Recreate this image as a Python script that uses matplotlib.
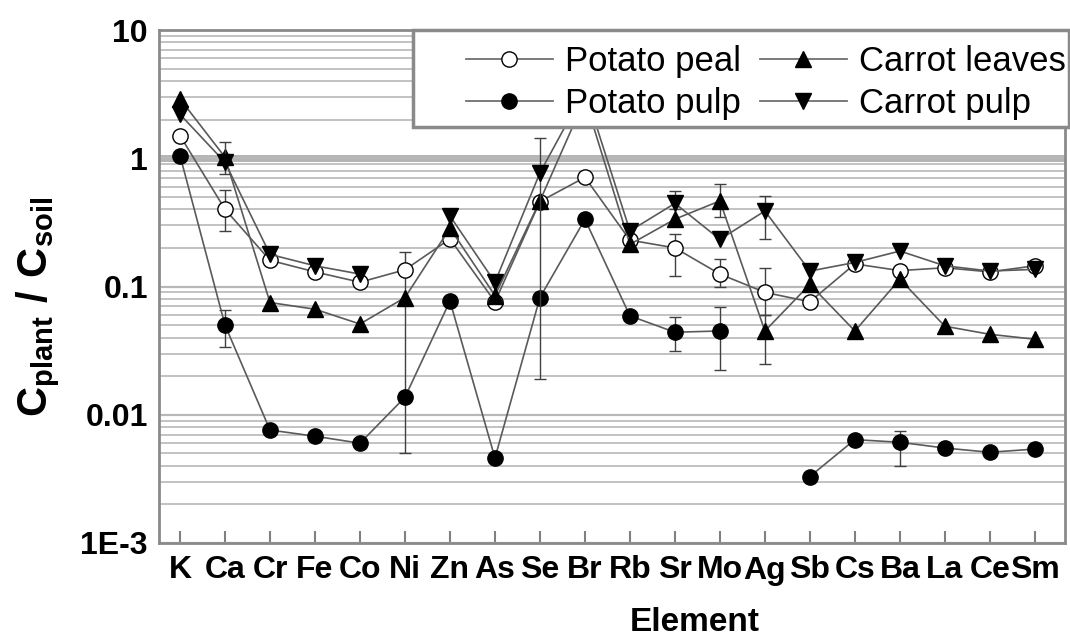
import numpy as np
import matplotlib
matplotlib.use('Agg')
import matplotlib.pyplot as plt
from matplotlib.lines import Line2D
from matplotlib.patches import Rectangle
from matplotlib.ticker import LogLocator, FixedLocator, NullFormatter

plt.rcParams['font.family'] = ['Liberation Sans', 'DejaVu Sans']
plt.rcParams['mathtext.fontset'] = 'custom'
plt.rcParams['mathtext.rm'] = 'Liberation Sans:bold'
plt.rcParams['mathtext.bf'] = 'Liberation Sans:bold'

nan = np.nan

elements = ['K', 'Ca', 'Cr', 'Fe', 'Co', 'Ni', 'Zn', 'As', 'Se', 'Br',
            'Rb', 'Sr', 'Mo', 'Ag', 'Sb', 'Cs', 'Ba', 'La', 'Ce', 'Sm']

# transfer factors C_plant / C_soil
potato_peal = [1.5, 0.40, 0.16, 0.13, 0.108, 0.135, 0.235, 0.076, 0.46, 0.71,
               0.23, 0.20, 0.125, 0.09, 0.076, 0.15, 0.133, 0.14, 0.13, 0.145]
potato_pulp = [1.05, 0.05, 0.0076, 0.0068, 0.006, 0.0137, 0.077, 0.0046, 0.082, 0.334,
               0.059, 0.044, 0.045, nan, 0.0033, 0.0064, 0.0061, 0.0055, 0.0051, 0.0054]
carrot_leaves = [2.9, 1.02, 0.075, 0.0665, 0.051, 0.082, 0.285, 0.085, 0.465, 2.9,
                 0.213, 0.335, 0.465, 0.045, 0.104, 0.045, 0.114, 0.049, 0.0424, 0.0388]
carrot_pulp = [2.2, 0.93, 0.178, 0.145, 0.125, nan, 0.355, 0.108, 0.77, 3.4,
               0.271, 0.445, 0.233, 0.388, 0.132, 0.154, 0.189, 0.145, 0.132, 0.136]

# error bar limits (low, high)
peal_lo = [nan, 0.27, nan, nan, nan, 0.005, nan, nan, nan, nan,
           nan, 0.121, 0.10, 0.06, nan, nan, nan, nan, nan, nan]
peal_hi = [nan, 0.57, nan, nan, nan, 0.185, nan, nan, nan, nan,
           nan, 0.255, 0.165, 0.14, nan, nan, nan, nan, nan, nan]
pulp_lo = [nan, 0.034, nan, nan, nan, nan, nan, nan, nan, nan,
           nan, 0.0315, 0.0225, nan, nan, nan, 0.004, nan, nan, nan]
pulp_hi = [nan, 0.065, nan, nan, nan, nan, nan, nan, nan, nan,
           nan, 0.0575, 0.069, nan, nan, nan, 0.0075, nan, nan, nan]
leaves_lo = [nan, nan, nan, nan, nan, nan, nan, nan, nan, nan,
             nan, nan, 0.35, 0.0247, nan, nan, nan, nan, nan, nan]
leaves_hi = [nan, nan, nan, nan, nan, nan, nan, nan, nan, nan,
             nan, nan, 0.627, 0.06, nan, nan, nan, nan, nan, nan]
cpulp_lo = [nan, 0.75, nan, nan, nan, nan, nan, nan, 0.019, nan,
            nan, 0.40, nan, 0.233, nan, nan, nan, nan, nan, nan]
cpulp_hi = [nan, 1.33, nan, nan, nan, nan, nan, nan, 1.45, nan,
            nan, 0.556, nan, 0.51, nan, nan, nan, nan, nan, nan]


def yerr(vals, lo, hi):
    v = np.array(vals, dtype=float)
    return [v - np.array(lo, dtype=float), np.array(hi, dtype=float) - v]


fig = plt.figure(figsize=(10.7, 6.36), dpi=100)
ax = fig.add_axes([159 / 1070, 1 - 543 / 636, 906 / 1070, 513 / 636])

x = np.arange(len(elements))
line_c = '#5a5a5a'

series = [
    (potato_peal, peal_lo, peal_hi, 'o', 'white', 11, 'Potato peal'),
    (potato_pulp, pulp_lo, pulp_hi, 'o', 'black', 11, 'Potato pulp'),
    (carrot_leaves, leaves_lo, leaves_hi, '^', 'black', 11, 'Carrot leaves'),
    (carrot_pulp, cpulp_lo, cpulp_hi, 'v', 'black', 11, 'Carrot pulp'),
]
handles = []
for i, (vals, lo, hi, m, fc, ms, name) in enumerate(series):
    ax.errorbar(x, vals, yerr=yerr(vals, lo, hi), fmt='-', color=line_c, lw=1.2,
                marker=m, mfc=fc, mec='black', mew=1.0, ms=ms,
                ecolor='#404040', elinewidth=1.0, capsize=4, capthick=1.0,
                zorder=3 + i)
    handles.append(Line2D([], [], color='#707070', lw=1.3, marker=m, mfc=fc,
                          mec='black', ms=ms, label=name))

ax.set_yscale('log')
ax.set_ylim(1e-3, 10)
ax.set_xlim(-0.467, 19.67)

# horizontal grid on every decade step
ax.yaxis.set_minor_locator(LogLocator(base=10, subs=np.arange(2, 10)))
ax.yaxis.set_minor_formatter(NullFormatter())
ax.grid(which='minor', axis='y', color='#c2c2c2', lw=1.4, zorder=0)
ax.grid(which='major', axis='y', color='#b8b8b8', lw=1.6, zorder=0)
ax.axhline(1, color='#b4b4b4', lw=5, zorder=1)

ax.yaxis.set_major_locator(FixedLocator([1e-3, 1e-2, 1e-1, 1, 10]))
ax.set_yticklabels(['1E-3', '0.01', '0.1', '1', '10'])
ax.set_xticks(x)
ax.set_xticklabels(elements)

for lab in ax.get_xticklabels() + ax.get_yticklabels():
    lab.set_fontweight('bold')
    lab.set_fontsize(23)
ax.tick_params(axis='x', direction='in', length=9, width=1.5, color='#808080', pad=9)
ax.tick_params(axis='y', which='both', length=0, pad=8)

for s in ax.spines.values():
    s.set_color('#8a8a8a')
    s.set_linewidth(2)

ax.set_xlabel('Element', fontsize=24, fontweight='bold')
ax.xaxis.set_label_coords((695 - 159) / 906, -0.125)
ax.set_ylabel(r'$\mathbf{C_{plant}\ /\ C_{soil}}$', fontsize=30)
ax.yaxis.set_label_coords(-0.107, 0.46)

# legend box with its own frame
box = Rectangle((413 / 1070, 1 - 127 / 636), 656 / 1070, 97 / 636,
                transform=fig.transFigure, facecolor='white', edgecolor='#8a8a8a',
                lw=2.5, zorder=10, clip_on=False)
ax.add_patch(box)
leg = ax.legend(handles=handles, ncol=2, loc='upper left',
                bbox_to_anchor=(466 / 1070, 1 - 45 / 636), bbox_transform=fig.transFigure,
                frameon=False, fontsize=25, borderpad=0, borderaxespad=0,
                handlelength=2.5, handletextpad=0.35, columnspacing=0.55,
                labelspacing=0.26)
leg.set_zorder(11)

fig.savefig('out.png', dpi=100)
